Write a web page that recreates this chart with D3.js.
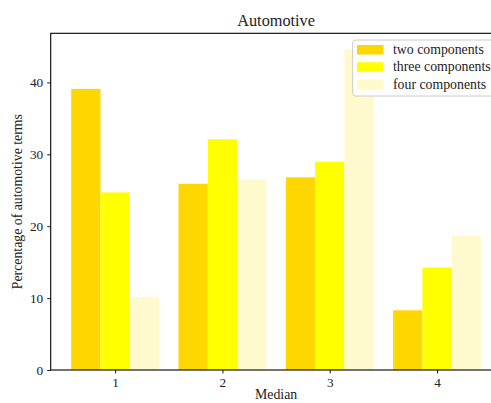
<!DOCTYPE html>
<html>
<head>
<meta charset="utf-8">
<script src="https://cdn.jsdelivr.net/npm/d3@7"></script>
<style>
  html, body { margin: 0; padding: 0; background: #fff; }
  svg { display: block; font-family: "Liberation Serif", "DejaVu Serif", serif; }
</style>
</head>
<body>
<svg id="chart" width="491" height="403"></svg>
<script>
const categories = [1, 2, 3, 4];
const seriesNames = ["two components", "three components", "four components"];
const twoComponents = [39.1, 25.9, 26.8, 8.3];
const threeComponents = [24.7, 32.1, 28.95, 14.25];
const fourComponents = [10.15, 26.55, 44.6, 18.7];
const seriesColors = ["#FFD700", "#FFFF00", "#FFFACD"];
const yTicks = [0, 10, 20, 30, 40];
const title = "Automotive";
const xLabel = "Median";
const yLabel = "Percentage of automotive terms";

const series = [twoComponents, threeComponents, fourComponents];
const barW = 0.273;

const svg = d3.select("#chart");
const mLeft = 50.7, mRight = 501.5, mTop = 33.3, mBottom = 370;

const dataMin = d3.min(categories) - 1.5 * barW;
const dataMax = d3.max(categories) + 1.5 * barW;
const pad = (dataMax - dataMin) * 0.05;
const x = d3.scaleLinear().domain([dataMin - pad, dataMax + pad]).range([mLeft, mRight]);
const yMax = d3.max(series.flat()) * 1.05;
const y = d3.scaleLinear().domain([0, yMax]).range([mBottom, mTop]);

// bars
series.forEach((vals, si) => {
  svg.append("g").selectAll("rect").data(vals).join("rect")
    .attr("x", (d, i) => x(categories[i] + (si - 1) * barW - barW / 2))
    .attr("width", (d, i) => x(categories[i] + barW) - x(categories[i]))
    .attr("y", d => y(d))
    .attr("height", d => y(0) - y(d))
    .attr("fill", seriesColors[si]);
});

// frame
svg.append("rect")
  .attr("x", mLeft).attr("y", mTop)
  .attr("width", mRight - mLeft).attr("height", mBottom - mTop)
  .attr("fill", "none").attr("stroke", "#000").attr("stroke-width", 1.1);

// axes
const xAxis = d3.axisBottom(x).tickValues(categories).tickFormat(d3.format("d")).tickSizeOuter(0).tickSize(3.5).tickPadding(4);
const gx = svg.append("g").attr("transform", `translate(0,${mBottom})`).call(xAxis);
gx.select(".domain").remove();
gx.selectAll("line").attr("stroke", "#000").attr("stroke-width", 0.9);
gx.selectAll("text").attr("font-size", 13.3).attr("font-family", "Liberation Serif").attr("fill", "#222");

const yAxis = d3.axisLeft(y).tickValues(yTicks).tickFormat(d3.format("d")).tickSizeOuter(0).tickSize(3.5).tickPadding(4);
const gy = svg.append("g").attr("transform", `translate(${mLeft},0)`).call(yAxis);
gy.select(".domain").remove();
gy.selectAll("line").attr("stroke", "#000").attr("stroke-width", 0.9);
gy.selectAll("text").attr("font-size", 13.3).attr("font-family", "Liberation Serif").attr("fill", "#222");

// title and labels
svg.append("text").attr("x", (mLeft + mRight) / 2).attr("y", 26)
  .attr("text-anchor", "middle").attr("font-size", 16.3).attr("fill", "#222").text(title);
svg.append("text").attr("x", (mLeft + mRight) / 2).attr("y", 399)
  .attr("text-anchor", "middle").attr("font-size", 13.8).attr("fill", "#222").text(xLabel);
svg.append("text").attr("transform", `translate(22,${(mTop + mBottom) / 2}) rotate(-90)`)
  .attr("text-anchor", "middle").attr("font-size", 13.8).attr("fill", "#222").text(yLabel);

// legend
const lg = svg.append("g");
lg.append("rect").attr("x", 352.7).attr("y", 40).attr("width", 150).attr("height", 56)
  .attr("rx", 3).attr("fill", "#fff").attr("fill-opacity", 0.85)
  .attr("stroke", "#ccc").attr("stroke-width", 1);
seriesNames.forEach((name, i) => {
  const cy = 49.5 + i * 17.3;
  lg.append("rect").attr("x", 357).attr("y", cy - 4.5).attr("width", 26.5).attr("height", 9.5)
    .attr("fill", seriesColors[i]);
  lg.append("text").attr("x", 393).attr("y", cy + 4.5)
    .attr("font-size", 13.8).attr("fill", "#222").text(name);
});
</script>
</body>
</html>
